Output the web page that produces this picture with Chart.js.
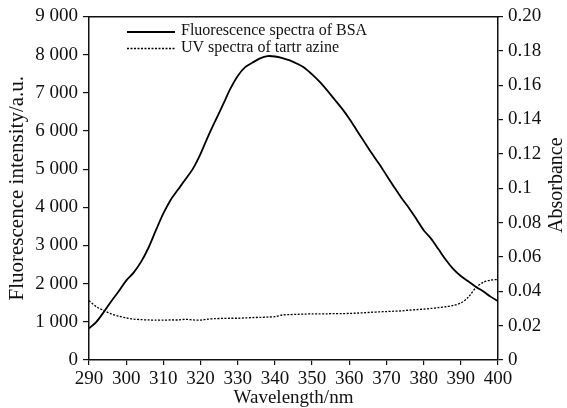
<!DOCTYPE html>
<html>
<head>
<meta charset="utf-8">
<script src="https://cdn.jsdelivr.net/npm/chart.js@4/dist/chart.umd.min.js"></script>
<style>
  html, body { margin: 0; padding: 0; background: #fff; }
  #wrap { width: 567px; height: 408px; }
</style>
</head>
<body>
<div id="wrap"><canvas id="myChart" width="567" height="408"></canvas></div>
<script>
// wavelengths, nm
const wavelengths = [290, 292, 294, 296, 298, 300, 302, 304, 306, 308, 310, 312, 314, 316, 318, 320,
    322, 324, 326, 328, 330, 332, 334, 336, 338, 340, 342, 344, 346, 348, 350, 352, 354, 356, 358, 360,
    362, 364, 366, 368, 370, 372, 374, 376, 378, 380, 382, 384, 386, 388, 390, 392, 394, 396, 398, 400];

// fluorescence intensity of BSA (left axis)
const fluorescence = [830, 1000, 1260, 1540, 1800, 2080, 2290, 2570, 2940, 3400, 3840, 4200, 4470, 4740, 5020, 5400,
    5850, 6270, 6680, 7100, 7440, 7670, 7790, 7900, 7960, 7950, 7910, 7850, 7760, 7650, 7480, 7290, 7070, 6830, 6590, 6320,
    6020, 5720, 5420, 5140, 4840, 4540, 4250, 3990, 3700, 3400, 3180, 2900, 2620, 2380, 2200, 2060, 1920, 1800, 1660, 1540];

// UV absorbance of tartrazine (right axis)
const absorbance = [0.0345, 0.031, 0.0288, 0.0268, 0.0255, 0.0245, 0.0238, 0.0235, 0.0233, 0.0232, 0.0232, 0.0233, 0.0233, 0.0237, 0.0233, 0.0232,
    0.0238, 0.0241, 0.0242, 0.0243, 0.0243, 0.0245, 0.0247, 0.0248, 0.025, 0.0252, 0.0262, 0.0264, 0.0266, 0.0267, 0.0269, 0.0268, 0.0269, 0.027, 0.027, 0.0271,
    0.0273, 0.0275, 0.0278, 0.028, 0.0282, 0.0284, 0.0286, 0.029, 0.0293, 0.0296, 0.03, 0.0305, 0.031, 0.0318, 0.0332, 0.0365, 0.042, 0.0452, 0.0465, 0.0469];

const leftTicks = ['0', '1 000', '2 000', '3 000', '4 000', '5 000', '6 000', '7 000', '8 000', '9 000'];
const rightTicks = ['0', '0.02', '0.04', '0.06', '0.08', '0.1', '0.12', '0.14', '0.16', '0.18', '0.20'];
const legendLabels = ['Fluorescence spectra of BSA', 'UV spectra of tartr azine'];
const rightTitle = 'Absorbance';

const serif = 'Liberation Serif, Times New Roman, serif';
const ink = '#111';

// legend inside the plot, top left; right axis title reads bottom-to-top
const extras = {
    id: 'extras',
    afterDraw(chart) {
        const ctx = chart.ctx;
        ctx.save();
        ctx.font = '16px ' + serif;
        ctx.fillStyle = ink;
        ctx.textBaseline = 'middle';
        chart.data.datasets.forEach((ds, i) => {
            const y = 32 + i * 16.5;
            ctx.beginPath();
            ctx.strokeStyle = ds.borderColor;
            ctx.lineWidth = ds.borderWidth;
            ctx.setLineDash(ds.borderDash || []);
            ctx.moveTo(127, y);
            ctx.lineTo(175, y);
            ctx.stroke();
            ctx.setLineDash([]);
            ctx.fillText(legendLabels[i], 181, y - 1);
        });

        const a = chart.chartArea;
        ctx.translate(557, (a.top + a.bottom) / 2 - 3);
        ctx.rotate(-Math.PI / 2);
        ctx.font = '20px ' + serif;
        ctx.textAlign = 'center';
        ctx.fillText(rightTitle, 0, 0);
        ctx.restore();
    }
};

const ctx = document.getElementById('myChart').getContext('2d');
new Chart(ctx, {
    type: 'line',
    data: {
        labels: wavelengths,
        datasets: [{
            label: legendLabels[0],
            data: wavelengths.map((w, i) => ({ x: w, y: fluorescence[i] })),
            borderColor: '#000',
            borderWidth: 1.8,
            pointRadius: 0,
            tension: 0.3,
            yAxisID: 'y'
        }, {
            label: legendLabels[1],
            data: wavelengths.map((w, i) => ({ x: w, y: absorbance[i] })),
            borderColor: '#000',
            borderWidth: 1.3,
            borderDash: [2, 1.5],
            pointRadius: 0,
            tension: 0.3,
            yAxisID: 'y2'
        }]
    },
    plugins: [extras],
    options: {
        responsive: false,
        animation: false,
        layout: { padding: { top: 16, left: 0, right: 0, bottom: 0 } },
        plugins: {
            legend: { display: false },
            tooltip: { enabled: false }
        },
        scales: {
            x: {
                type: 'linear',
                min: 290,
                max: 400,
                afterFit: s => { s.height = 48; },
                ticks: {
                    stepSize: 10,
                    color: ink,
                    padding: 3,
                    maxRotation: 0,
                    font: { family: serif, size: 19 }
                },
                grid: { drawOnChartArea: false, tickLength: 5, color: ink, lineWidth: 1.2 },
                border: { color: ink, width: 1.5 },
                title: {
                    display: true,
                    text: 'Wavelength/nm',
                    color: ink,
                    padding: 0,
                    font: { family: serif, size: 19, lineHeight: 1 }
                }
            },
            xTop: {
                type: 'linear',
                position: 'top',
                min: 290,
                max: 400,
                afterFit: s => { s.height = 0; },
                ticks: { display: false },
                grid: { display: false },
                border: { color: ink, width: 1.5 }
            },
            y: {
                position: 'left',
                min: 0,
                max: 9000,
                afterFit: s => { s.width = 89; },
                ticks: {
                    stepSize: 1000,
                    color: ink,
                    padding: 5,
                    font: { family: serif, size: 19 },
                    callback: (v, i) => leftTicks[i]
                },
                grid: { drawOnChartArea: false, tickLength: 6, color: ink, lineWidth: 1.2 },
                border: { color: ink, width: 1.5 },
                title: {
                    display: true,
                    text: 'Fluorescence intensity/a.u.',
                    color: ink,
                    padding: { top: 7 },
                    font: { family: serif, size: 21, lineHeight: 1 }
                }
            },
            y2: {
                position: 'right',
                min: 0,
                max: 0.2,
                afterFit: s => { s.width = 69; },
                ticks: {
                    stepSize: 0.02,
                    color: ink,
                    padding: 5,
                    font: { family: serif, size: 19 },
                    callback: (v, i) => rightTicks[i]
                },
                grid: { drawOnChartArea: false, tickLength: 5, color: ink, lineWidth: 1.2 },
                border: { color: ink, width: 1.5 }
            }
        }
    }
});
</script>
</body>
</html>
